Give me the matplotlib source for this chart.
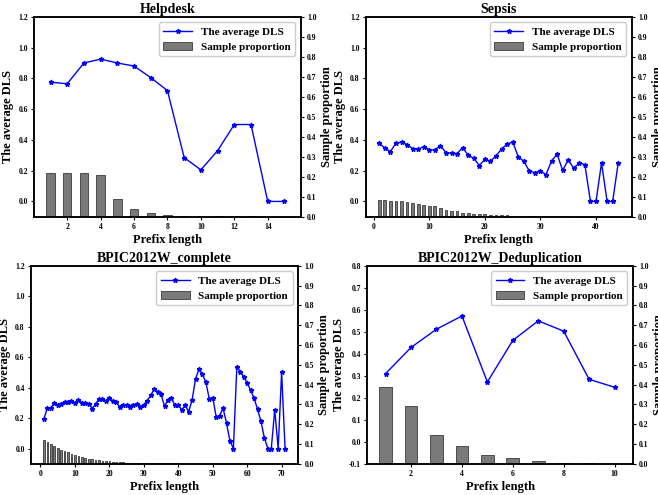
import numpy as np
import matplotlib
matplotlib.use("Agg")
import matplotlib.pyplot as plt

plt.rcParams['font.family'] = ['Liberation Serif', 'DejaVu Serif']
plt.rcParams['font.weight'] = 'bold'

# Helpdesk
help_dls = [0.775, 0.765, 0.90, 0.925, 0.90, 0.88, 0.805, 0.72, 0.285, 0.205,
            0.33, 0.50, 0.50, 0.0, 0.0]
help_prop = [0.22, 0.22, 0.22, 0.209, 0.09, 0.038, 0.017, 0.007, 0.003, 0.002,
             0.002, 0.002, 0.002, 0.001, 0.001]

# Sepsis
sepsis_dls = [0.378, 0.346, 0.324, 0.38, 0.385, 0.37, 0.343, 0.339, 0.357, 0.335,
              0.335, 0.363, 0.317, 0.313, 0.311, 0.35, 0.30, 0.28, 0.233, 0.274,
              0.261, 0.296, 0.341, 0.372, 0.387, 0.291, 0.261, 0.198, 0.187, 0.198,
              0.174, 0.263, 0.307, 0.202, 0.27, 0.215, 0.252, 0.239, 0.0, 0.0,
              0.25, 0.0, 0.0, 0.25]
sepsis_prop = [0.085, 0.085, 0.08, 0.08, 0.077, 0.074, 0.07, 0.065, 0.06, 0.055,
               0.054, 0.043, 0.033, 0.028, 0.027, 0.018, 0.017, 0.015, 0.013, 0.012,
               0.009, 0.008, 0.007, 0.007, 0.006, 0.006, 0.005, 0.005, 0.004, 0.004,
               0.003, 0.002, 0.002, 0.002, 0.002, 0.001, 0.001, 0.001, 0.001, 0.001,
               0.001, 0.001, 0.001, 0.001]

# BPIC2012W_complete
bpic_dls = [0.195, 0.267, 0.265, 0.30, 0.285, 0.296, 0.307, 0.309, 0.311, 0.30,
            0.32, 0.30, 0.302, 0.296, 0.263, 0.291, 0.328, 0.324, 0.311, 0.33,
            0.313, 0.304, 0.274, 0.285, 0.285, 0.274, 0.287, 0.291, 0.274, 0.287,
            0.315, 0.35, 0.389, 0.374, 0.357, 0.278, 0.32, 0.33, 0.285, 0.285,
            0.254, 0.283, 0.243, 0.317, 0.457, 0.52, 0.487, 0.437, 0.326, 0.335,
            0.209, 0.217, 0.265, 0.167, 0.05, 0.0, 0.537, 0.504, 0.472, 0.43,
            0.383, 0.33, 0.259, 0.178, 0.07, 0.0, 0.0, 0.255, 0.0, 0.50, 0.0]
bpic_prop = [0.119, 0.11, 0.101, 0.091, 0.08, 0.07, 0.064, 0.058, 0.05, 0.044,
             0.039, 0.034, 0.03, 0.025, 0.022, 0.018, 0.017, 0.015, 0.013, 0.012,
             0.01, 0.009, 0.008, 0.007, 0.006, 0.006, 0.005, 0.005, 0.004, 0.004,
             0.003, 0.003, 0.003, 0.003, 0.003, 0.002, 0.002, 0.002, 0.002, 0.002,
             0.001, 0.001, 0.001, 0.001, 0.001, 0.001, 0.001, 0.001, 0.001, 0.001,
             0.001, 0.001, 0.001, 0.001, 0.001, 0.001, 0.001, 0.001, 0.001, 0.001,
             0.001, 0.001, 0.001, 0.001, 0.001, 0.001, 0.001, 0.001, 0.001, 0.001,
             0.001]

# BPIC2012W_Deduplication
dedup_dls = [0.31, 0.429, 0.512, 0.572, 0.272, 0.461, 0.55, 0.503, 0.284, 0.248]
dedup_prop = [0.388, 0.294, 0.144, 0.089, 0.047, 0.027, 0.012, 0.005, 0.002, 0.001]

panels = [
    ("Helpdesk", help_dls, help_prop, (-0.1, 1.2), np.arange(0, 1.21, 0.2),
     [0.052, 0.562, 0.405, 0.404], [2, 4, 6, 8, 10, 12, 14]),
    ("Sepsis", sepsis_dls, sepsis_prop, (-0.1, 1.2), np.arange(0, 1.21, 0.2),
     [0.556, 0.562, 0.404, 0.404], [0, 10, 20, 30, 40]),
    ("BPIC2012W_complete", bpic_dls, bpic_prop, (-0.1, 1.2), np.arange(0, 1.21, 0.2),
     [0.047, 0.063, 0.406, 0.400], [0, 10, 20, 30, 40, 50, 60, 70]),
    ("BPIC2012W_Deduplication", dedup_dls, dedup_prop, (-0.1, 0.8), np.arange(-0.1, 0.81, 0.1),
     [0.558, 0.063, 0.404, 0.400], [2, 4, 6, 8, 10]),
]

fig = plt.figure(figsize=(6.58, 4.95), dpi=100)

for title, dls, prop, ylim, yticks, pos, xticks in panels:
    x = np.arange(1, len(dls) + 1)
    ax = fig.add_axes(pos)
    ax2 = ax.twinx()
    ax.set_zorder(ax2.get_zorder() + 1)
    ax.patch.set_visible(False)

    bars = ax2.bar(x, prop, width=0.5, color='#7a7a7a', edgecolor='#3a3a3a',
                   linewidth=0.6, label='Sample proportion')
    line, = ax.plot(x, dls, color='blue', marker='*', markersize=3.5, linewidth=1,
                    label='The average DLS')

    ax.set_ylim(*ylim)
    ax.set_yticks(yticks)
    ax.set_yticklabels(['%.1f' % v for v in yticks])
    ax2.set_ylim(0, 1.0)
    ax2.set_yticks(np.arange(0, 1.01, 0.1))
    ax2.set_yticklabels(['%.1f' % v for v in np.arange(0, 1.01, 0.1)])
    ax.set_xticks(xticks)

    for a in (ax, ax2):
        a.tick_params(labelsize=5.5, length=2.5, width=0.8, pad=2)
        for s in a.spines.values():
            s.set_linewidth(1.1)

    ax.set_title(title, fontsize=10, fontweight='bold', pad=3)
    ax.set_xlabel('Prefix length', fontsize=9, fontweight='bold', labelpad=2)
    ax.set_ylabel('The average DLS', fontsize=9, fontweight='bold', labelpad=3)
    ax2.set_ylabel('Sample proportion', fontsize=9, fontweight='bold', labelpad=3)

    ax.legend([line, bars], ['The average DLS', 'Sample proportion'],
              loc='upper right', prop={'weight': 'bold', 'size': 8},
              framealpha=1, edgecolor='#cccccc', fancybox=True,
              handlelength=2.6, borderpad=0.4, labelspacing=0.5)

fig.savefig('out.png', dpi=100)
